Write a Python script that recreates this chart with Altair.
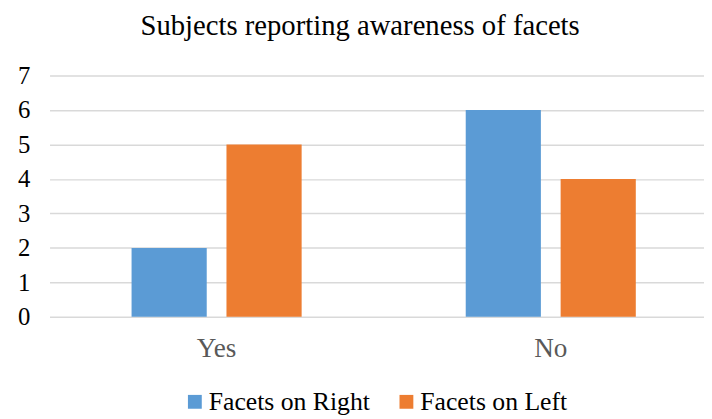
import altair as alt
import pandas as pd

categories = ["Yes", "No"]
series = ["Facets on Right", "Facets on Left"]
right_values = [2, 6]
left_values = [5, 4]
colors = ["#5B9BD5", "#ED7D31"]

rows = []
for i, c in enumerate(categories):
    rows.append({"answer": c, "series": series[0], "value": right_values[i]})
    rows.append({"answer": c, "series": series[1], "value": left_values[i]})
df = pd.DataFrame(rows)

FONT = "Liberation Serif"

chart = alt.Chart(df).mark_bar().encode(
    x=alt.X("answer:N", sort=categories, title=None,
            scale=alt.Scale(paddingInner=0, paddingOuter=0),
            axis=alt.Axis(labelAngle=0, labelFontSize=27.5, labelColor="#595959",
                          labelFont=FONT, labelPadding=18, ticks=False, domain=False)),
    xOffset=alt.XOffset("series:N", sort=series,
                        scale=alt.Scale(paddingInner=0.208, paddingOuter=0.8645)),
    y=alt.Y("value:Q", title=None,
            scale=alt.Scale(domain=[0, 7]),
            axis=alt.Axis(values=list(range(8)), labelFontSize=25, labelColor="#000000",
                          labelFont=FONT, labelPadding=20, ticks=False, domain=False,
                          gridColor="#D9D9D9", gridWidth=1.5)),
    color=alt.Color("series:N", sort=series,
                    scale=alt.Scale(domain=series, range=colors),
                    legend=alt.Legend(orient="none", legendX=134, legendY=317,
                                      direction="horizontal", title=None,
                                      symbolType="square", symbolSize=196,
                                      labelFontSize=26, labelFont=FONT, labelLimit=0,
                                      labelColor="#000000", columnPadding=23,
                                      symbolStrokeWidth=0, labelOffset=1)),
).properties(
    width=676,
    height=244,
    autosize=alt.AutoSizeParams(type="none"),
    padding={"left": 42, "top": 66, "right": -14, "bottom": 99},
    title=alt.TitleParams("Subjects reporting awareness of facets", font=FONT,
                          fontSize=29, fontWeight="normal", color="#000000",
                          anchor="start", frame="group", dx=92, offset=23),
).configure(font=FONT).configure_view(stroke=None)

chart.save("out.html", embed_options={"renderer": "svg", "actions": False})
